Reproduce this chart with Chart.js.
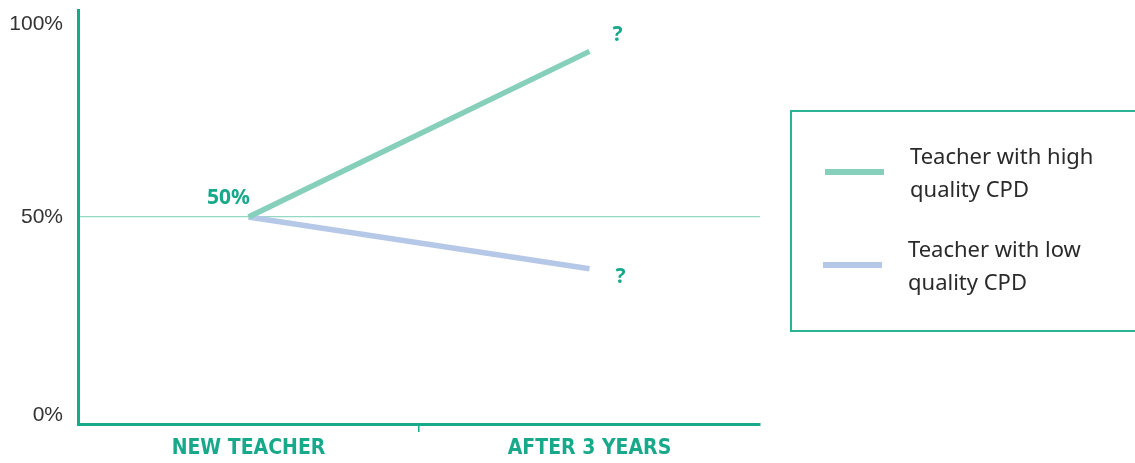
<!DOCTYPE html>
<html>
<head>
<meta charset="utf-8">
<script src="https://cdn.jsdelivr.net/npm/chart.js@4/dist/chart.umd.min.js"></script>
<style>
  body { margin: 0; background: #fff; }
  #wrap { position: relative; width: 1135px; height: 463px; }
  #legend {
    position: absolute; left: 790px; top: 110px; width: 360px; height: 222px;
    border: 2px solid #2bb393; box-sizing: border-box; font-family: "Noto Sans", sans-serif;
    font-size: 22px; color: #2a2a2a; line-height: 33px;
  }
  .item { position: absolute; left: 0; display: flex; align-items: center; }
  .swatch { width: 59px; height: 6px; margin-left: 33px; margin-right: 26px; }
</style>
</head>
<body>
<div id="wrap">
  <canvas id="chart" width="1135" height="463"></canvas>
  <div id="legend"></div>
</div>
<script>
// Datos
const categories = ['NEW TEACHER', 'AFTER 3 YEARS'];
const seriesNames = ['Teacher with high quality CPD', 'Teacher with low quality CPD'];
const highCPD = [50, 90];
const lowCPD = [50, 37.5];
const yTicks = [0, 50, 100];

const teal = '#17a98a';
const highColor = '#86cfbb';
const lowColor = '#b6c8e8';

// Etiquetas del eje Y, "50%" y "?"
const notesPlugin = {
  id: 'notes',
  afterDatasetsDraw(chart) {
    const ctx = chart.ctx;
    const x = chart.scales.x, y = chart.scales.y;
    ctx.save();
    // eje Y: las etiquetas extremas quedan dentro del área
    ctx.fillStyle = '#333';
    ctx.font = '21px "Liberation Sans", sans-serif';
    ctx.textAlign = 'right';
    ctx.textBaseline = 'middle';
    yTicks.forEach(v => {
      let py = y.getPixelForValue(v);
      py = Math.max(y.top + 14, Math.min(y.bottom - 9, py));
      ctx.fillText(v + '%', 63, py);
    });
    // notas
    ctx.fillStyle = teal;
    ctx.font = 'bold 21px "Noto Sans", sans-serif';
    ctx.textAlign = 'center';
    ctx.fillText(highCPD[0] + '%', x.getPixelForValue(0) - 20, y.getPixelForValue(highCPD[0]) - 19);
    ctx.fillText('?', x.getPixelForValue(1) + 28, y.getPixelForValue(highCPD[1]) - 16);
    ctx.fillText('?', x.getPixelForValue(1) + 31, y.getPixelForValue(lowCPD[1]) + 8);
    ctx.restore();
  }
};

const chart = new Chart(document.getElementById('chart'), {
  type: 'line',
  data: {
    labels: categories,
    datasets: [
      { label: seriesNames[0], data: highCPD, borderColor: highColor, borderWidth: 5.5, pointRadius: 0, borderCapStyle: 'butt' },
      { label: seriesNames[1], data: lowCPD, borderColor: lowColor, borderWidth: 5.5, pointRadius: 0, borderCapStyle: 'butt' }
    ]
  },
  options: {
    responsive: false,
    animation: false,
    layout: { padding: { top: 10, right: 375, left: 0, bottom: 0 } },
    plugins: { legend: { display: false }, tooltip: { enabled: false } },
    scales: {
      x: {
        offset: true,
        border: { color: teal, width: 3 },
        grid: {
          offset: true,
          drawOnChartArea: false,
          tickLength: 8,
          lineWidth: 1.5,
          color: c => (c.index === 1 ? teal : 'rgba(0,0,0,0)')
        },
        ticks: {
          color: teal,
          padding: 4,
          font: { family: '"DejaVu Sans Condensed", "Liberation Sans", sans-serif', size: 21, weight: 'bold' }
        },
        afterFit: s => { s.height = 39; s.paddingLeft = 0; s.paddingRight = 0; }
      },
      y: {
        min: 0,
        max: 100,
        afterBuildTicks: s => { s.ticks = yTicks.map(v => ({ value: v })); },
        border: { color: teal, width: 3 },
        grid: {
          drawTicks: false,
          color: c => (c.tick && c.tick.value === 50 ? '#94d8c4' : 'rgba(0,0,0,0)'),
          lineWidth: 1.2
        },
        ticks: { display: false },
        afterFit: s => { s.width = 78; s.paddingTop = 0; s.paddingBottom = 0; }
      }
    }
  },
  plugins: [notesPlugin]
});

// Leyenda en HTML
const legend = document.getElementById('legend');
const words = [['Teacher with high', 'quality CPD'], ['Teacher with low', 'quality CPD']];
chart.data.datasets.forEach((ds, i) => {
  const item = document.createElement('div');
  item.className = 'item';
  item.style.top = (i === 0 ? 27 : 120) + 'px';
  item.style.left = (i === 0 ? 0 : -2) + 'px';
  const sw = document.createElement('div');
  sw.className = 'swatch';
  sw.style.background = ds.borderColor;
  const txt = document.createElement('div');
  txt.innerHTML = words[i].join('<br>');
  item.appendChild(sw);
  item.appendChild(txt);
  legend.appendChild(item);
});
</script>
</body>
</html>
